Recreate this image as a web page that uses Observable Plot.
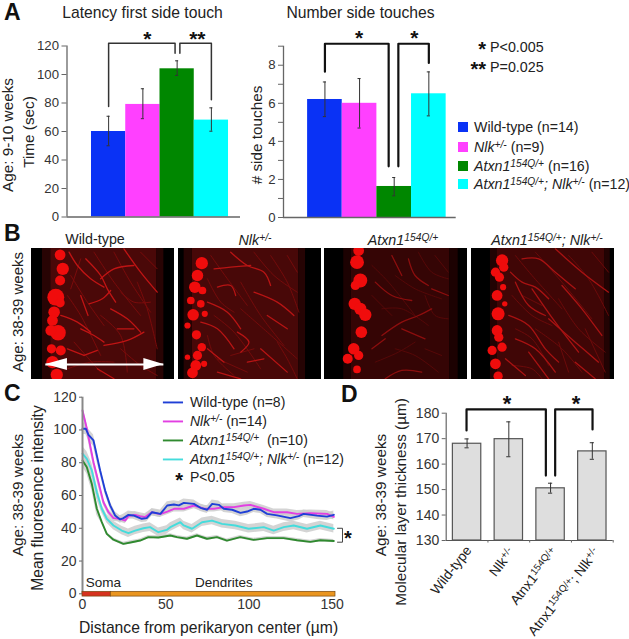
<!DOCTYPE html>
<html><head><meta charset="utf-8">
<script src="https://cdn.jsdelivr.net/npm/d3@7"></script>
<script src="https://cdn.jsdelivr.net/npm/@observablehq/plot@0.6"></script>
<style>
html,body{margin:0;padding:0;background:#fff}
#page{position:relative;width:629px;height:639px;overflow:hidden;font-family:"Liberation Sans",Arial,sans-serif;color:#222}
#page svg{position:absolute;overflow:visible}
.t{position:absolute;white-space:nowrap;line-height:1}
.s{font-size:.72em;vertical-align:.42em;line-height:0}
</style></head><body><div id="page"></div>
<script>
// ---------- Panel A ----------
const genotypeColors = ["#0a32f5","#ff40ff","#008700","#00ffff"];
const latencyMean = [60,79,104,68];
const latencyLow  = [50,69,99.3,60.2];
const latencyHigh = [70.7,90,109.6,76.6];
const touchesMean = [6.2,6.0,1.63,6.5];
const touchesLow  = [5.3,4.7,1.14,5.34];
const touchesHigh = [7.12,7.3,2.1,7.65];
const latencyTicks = [0,20,40,60,80,100,120];
const touchesTicks = [0,1,2,3,4,5,6,7,8,9];
const latencyBrackets = [[[0.5,77.5],[0.5,122],[2.44,122],[2.44,115]],[[2.58,115],[2.58,122],[3.5,122],[3.5,82.2]]];
const touchesBrackets = [[[0.5,7.66],[0.5,9.13],[2.34,9.13],[2.34,2.69]],[[2.62,2.69],[2.62,9.13],[3.5,9.13],[3.5,8.12]]];
// ---------- Panel C ----------
const blueX = [0,2,3.6,6.6,8.6,10.6,13.6,16.6,19.6,22.6,24.6,27.6,30.6,35.6,38.6,41.8,46.8,50.9,54.9,57.9,60.9,66.9,70.9,74.9,77.9,81.9,84.9,89.9,94.9,98.9,102.9,106.9,110.9,116.9,124.9,129.9,132.9,140.9,146.9,151];
const blueY = [100.7,100.7,97,93.6,84.4,75.3,63,54,47.8,45.4,46.2,48.2,47.8,45.8,46.2,49.8,48.8,53.9,54.5,54,55.5,54.9,52.5,51.3,54.9,54.3,51.9,51.3,49.4,50.2,51.9,51.3,48.8,47.9,46.2,47.4,48.8,47.7,47.1,48.2];
const pinkX = [0,2.6,4.6,6.6,9.6,12.6,15.6,18.6,22.6,25.6,27.6,31.6,34.6,37.6,41.6,46.6,51,55,61,67,73,79,85,91,97,100.9,108.9,114.9,122.9,128.9,136.9,146.9,151];
const pinkY = [111.9,100.9,90.5,80.3,68.1,55.9,49.8,46.2,45.8,44.7,47.4,48.2,47.4,46.8,49.8,48.6,50.2,51.9,51.9,53.9,51.9,51.9,52.9,52.9,53.9,54.3,51.9,49.8,49.8,48.8,49.2,48.8,47];
const cyanX = [0,2.6,5.6,8.6,11.6,14.6,18.6,23.6,27.6,31.6,36.6,40.6,45.6,50.6,52.8,58.8,60.8,65.8,71.8,77.8,83.8,91.8,99.8,108.9,114.9,120.9,126.9,134.9,142.9,151];
const cyanY = [85.5,82.4,75.3,62,51.9,45.8,41.7,38.6,37,38.6,40,40.7,37.6,39,40.7,43.7,41.7,39.7,43.7,44.7,42.7,41.7,39.7,40.7,38.6,40.7,41.7,39.7,41.7,39.7];
const greenX = [0,2.6,5.6,8.6,11.6,14.6,18.6,24.6,29.6,34.6,39.6,45.6,52.8,56.8,62.8,68.8,74.8,80.8,86.8,94.8,102.8,110.9,120.9,128.9,136.9,142.9,151];
const greenY = [81.4,77.3,67.1,51.9,43.7,36.6,33,30.5,31.5,32.5,34.6,34.4,35.6,34.6,33.6,35.6,33.6,34.6,32.5,34.6,32.9,34,34,32.7,31.7,32.7,32.2];
const curveColors = {blue:"#1f3fd6",pink:"#e23fe2",green:"#2f8a2f",cyan:"#45dcdc"};
const semEarly = {blue:3.5,pink:3,green:4,cyan:4.5};
const semLate = {blue:2.3,pink:2,green:1,cyan:2.6};
const legendRows = [["blue",116.8],["pink",105.2],["green",93.6],["cyan",82]];
const regionBars = [{name:"Soma",x1:0,x2:17,at:12.5,fill:"#d6321e"},{name:"Dendrites",x1:17,x2:152,at:85,fill:"#ea951f"}];
const curveTicksX = [0,50,100,150];
const curveTicksY = [0,20,40,60,80,100,120];
const sideBracket = [[153.2,40],[156.2,40],[156.2,31.5],[153.2,31.5]];
// ---------- Panel D ----------
const thickMean = [168,169.8,150.5,165];
const thickLow  = [166.4,162.9,148.6,161.9];
const thickHigh = [169.9,176.6,152.5,168.4];
const thickTicks = [130,140,150,160,170,180];
const thickBrackets = [[[0.487,173.2],[0.487,181.5],[2.387,181.5],[2.387,155.5]],[[2.61,155.5],[2.61,181.5],[3.505,181.5],[3.505,173.6]]];
// ---------- Panel B: shapes (3x zoom px) ----------
const somataWT = [[178,118,14],[186,160,16],[178,195,13],[165,245,22],[178,262,12],[160,290,15],[155,315,14],[172,352,20],[150,345,14],[152,400,12],[180,405,13],[155,440,16],[168,478,16]];
const somataNlk = [[603,143,16],[590,180,15],[582,215,15],[605,225,10],[570,255,10],[600,265,10],[577,298,15],[612,295,8],[560,330,8],[587,358,12],[603,395,11],[560,425,7],[590,420,12],[585,450,14],[575,472,14],[610,445,8]];
const somataAtxn = [[130,105,14],[125,140,18],[135,195,18],[120,210,12],[118,265,16],[135,280,16],[150,298,16],[138,350,15],[115,400,15],[130,420,12],[97,430,13],[125,462,10]];
const somataBoth = [[560,135,16],[565,155,12],[540,170,12],[552,185,12],[563,215,8],[545,240,14],[568,265,7],[548,295,17],[545,345,14],[550,365,12],[560,395,12],[530,405,12],[540,445,14],[548,482,12]];
const dendritesWT = [[[205,110],[230,150],[270,190],[310,215]],[[255,130],[300,180],[320,220],[345,260]],[[300,190],[340,160],[400,150]],[[265,265],[305,250],[330,225]],[[240,240],[262,300]],[[330,280],[380,310],[420,350]],[[240,340],[280,360],[310,380]],[[310,390],[380,375],[430,350]],[[250,420],[290,405]],[[180,300],[230,320],[270,350]],[[290,460],[340,490]],[[200,400],[250,420]],[[370,100],[420,170],[470,230]],[[350,340],[400,340]]];
const dendritesNlk = [[[690,110],[740,150],[790,170],[810,210]],[[650,215],[690,210],[705,240]],[[640,160],[690,155],[750,150]],[[620,260],[680,290],[720,340]],[[600,320],[650,340],[700,400]],[[710,350],[745,380],[720,410]],[[620,400],[670,440]],[[800,300],[860,340]],[[760,230],[830,260],[880,300]],[[650,470],[720,490]],[[780,400],[860,470]],[[740,440],[790,430]]];
const dendritesAtxn = [[[180,200],[230,240],[290,255]],[[200,360],[260,320],[310,300],[350,280]],[[280,130],[300,180],[340,210]],[[230,120],[260,180]],[[210,490],[260,465],[320,470]],[[170,400],[210,370]],[[350,220],[400,240]],[[260,340],[330,370]]];
const dendritesBoth = [[[585,170],[620,200],[660,215],[700,250]],[[620,130],[670,130],[720,170],[780,220]],[[600,200],[640,270],[690,300]],[[580,300],[640,330],[690,400],[730,440]],[[600,370],[660,400],[720,470]],[[740,210],[800,280],[860,360]],[[700,310],[780,380],[850,440]],[[570,430],[630,480]],[[720,100],[800,170],[880,230]],[[640,410],[700,490]],[[780,440],[840,490]],[[650,220],[720,320],[790,410]]];
const fibersWT = [[[210,180],[260,260],[310,330]],[[200,240],[240,300],[300,420]],[[280,110],[340,200],[420,300]],[[340,110],[390,200],[450,290]],[[410,200],[440,280],[470,400]],[[200,460],[270,440],[340,440]],[[360,400],[420,450],[470,480]],[[240,130],[210,220]],[[360,230],[400,260],[450,260]],[[300,300],[360,360],[380,470]],[[420,110],[470,160]],[[220,380],[300,470]]];
const fibersNlk = [[[630,120],[680,190],[740,270]],[[620,190],[660,260],[700,290]],[[720,200],[780,300],[850,390]],[[810,120],[860,200],[895,290]],[[640,300],[700,350],[780,460]],[[620,360],[640,420],[700,480]],[[760,110],[820,180],[890,230]],[[720,280],[800,350],[890,430]],[[650,430],[740,470]],[[830,380],[860,430],[890,490]],[[690,420],[760,400]],[[860,120],[890,170]]];
const fibersAtxn = [[[170,150],[220,200],[300,300]],[[200,280],[260,280],[340,330]],[[310,110],[350,170],[400,190]],[[170,240],[230,300]],[[240,400],[300,420],[370,470]],[[330,240],[360,300],[400,310]],[[180,440],[250,410],[300,380]],[[360,120],[400,170]],[[240,180],[300,220],[380,250]],[[330,400],[380,420]]];
const fibersBoth = [[[600,120],[650,180],[740,280]],[[590,240],[650,300],[710,330]],[[660,110],[740,200],[830,310]],[[760,120],[820,190],[880,300]],[[600,340],[650,370],[700,450]],[[730,250],[790,340],[870,410]],[[590,450],[650,460],[680,490]],[[830,110],[880,170]],[[660,340],[740,400],[800,470]],[[810,340],[870,470]],[[620,240],[680,270]],[[730,380],[760,470]]];
const arrowHeads = [[{x:135,y1:447,y2:447},{x:200,y1:429,y2:465}],[{x:490,y1:447,y2:447},{x:430,y1:429,y2:465}]];

const page = document.getElementById("page");
const font = "Liberation Sans, Arial, sans-serif";
function place(svg,left,top){svg.style.left=left+"px";svg.style.top=top+"px";page.appendChild(svg);return svg;}
function label(x,y,html,o={}){
  const d=document.createElement("div");d.className="t";d.innerHTML=html;
  d.style.left=x+"px";d.style.top=y+"px";d.style.fontSize=(o.size||14.5)+"px";
  if(o.bold)d.style.fontWeight="bold";
  if(o.color)d.style.color=o.color;
  if(o.anchor==="start")d.style.transform="translate(0,-50%)";
  else if(o.anchor==="end"){d.style.transformOrigin="100% 50%";d.style.transform=`translate(-100%,-50%) rotate(${o.rotate||0}deg)`;}
  else d.style.transform=`translate(-50%,-50%) rotate(${o.rotate||0}deg)`;
  page.appendChild(d);return d;
}
const pts = b => b.map(p=>({x:p[0],y:p[1]}));
const star = (x,y,text,size=21,color="#111") => Plot.text([{x,y}],{x:"x",y:"y",text:()=>text,fontSize:size,fontWeight:"bold",fill:color,lineAnchor:"middle"});
const style = size => ({fontFamily:font,fontSize:size+"px",color:"#333",background:"transparent"});
const caps = (rows,w) => rows.flatMap(d=>[d.low,d.high].map(y=>({y,x1:d.i+.5-w,x2:d.i+.5+w})));

function barPanel(o){
  const rows = o.mean.map((v,i)=>({i,v,low:o.low[i],high:o.high[i],c:genotypeColors[i]}));
  return Plot.plot({width:o.width,height:o.height,marginLeft:o.ml,marginRight:o.mr,marginTop:o.mt,marginBottom:o.mb,
    style:style(13.2),
    x:{domain:o.xd,axis:null},y:{domain:o.yd,axis:null},
    marks:[
      Plot.rectY(rows,{x1:"i",x2:d=>d.i+1,y:"v",fill:"c"}),
      Plot.ruleX(rows,{x:d=>d.i+.5,y1:"low",y2:"high",stroke:"#333",strokeWidth:1}),
      Plot.ruleY(caps(rows,.045),{y:"y",x1:"x1",x2:"x2",stroke:"#333",strokeWidth:1}),
      Plot.ruleY([o.yd[0]],{stroke:"#666",strokeWidth:1.3}),
      Plot.ruleX([o.xd[0]],{y1:o.yd[0],y2:o.yd[1],stroke:"#666",strokeWidth:1.3}),
      Plot.axisY({ticks:o.ticks,tickSize:5,tickPadding:3,stroke:"#666",fill:"#333",tickFormat:o.fmt||(d=>d),label:null}),
      ...o.brackets.map(b=>Plot.line(pts(b),{x:"x",y:"y",stroke:o.bc,strokeWidth:o.bw,curve:"linear"})),
      ...o.stars
    ]});
}
// A1
place(barPanel({width:215,height:210,ml:36.5,mr:5,mt:25.5,mb:13.5,xd:[-0.715,4.35],yd:[0,120],ticks:latencyTicks,mean:latencyMean,low:latencyLow,high:latencyHigh,brackets:latencyBrackets,bc:"#333",bw:1.5,
  stars:[star(1.63,125,"*"),star(3.09,125,"**")]}),30,20);
// A2
place(barPanel({width:210,height:210,ml:33,mr:4.3,mt:25.7,mb:13,xd:[-0.696,4.29],yd:[0,9],ticks:touchesTicks,fmt:d=>d%2?"":d,mean:touchesMean,low:touchesLow,high:touchesHigh,brackets:touchesBrackets,bc:"#111",bw:2.2,
  stars:[star(1.49,9.4,"*"),star(3.08,9.4,"*")]}),250,20);

label(4,12,"A",{size:23,bold:true,anchor:"start",color:"#111"});
label(142.5,13,"Latency first side touch",{size:15.7});
label(360.5,13,"Number side touches",{size:15.7});
label(8,135,"Age: 9-10 weeks",{size:15.3,rotate:-90});
label(29,132,"Time (sec)",{size:15.3,rotate:-90});
label(257,135,"# side touches",{size:15.3,rotate:-90});
label(490,47,"P&lt;0.005",{size:14.3,anchor:"start"});
label(490,67,"P=0.025",{size:14.3,anchor:"start"});
label(486,48.5,"*",{size:20,bold:true,anchor:"end",color:"#111"});
label(486,68.5,"**",{size:20,bold:true,anchor:"end",color:"#111"});
const aLegend=["Wild-type (n=14)",'<i>Nlk<span class="s">+/-</span></i> (n=9)','<i>Atxn1<span class="s">154Q/+</span></i> (n=16)','<i>Atxn1<span class="s">154Q/+</span>; Nlk<span class="s">+/-</span></i> (n=12)'];
const aRowY=[127,147,165.7,184.3];
aLegend.forEach((h,i)=>{
  const s=document.createElement("div");s.style.cssText=`position:absolute;left:458.3px;top:${aRowY[i]-5}px;width:10px;height:10px;background:${genotypeColors[i]}`;page.appendChild(s);
  label(474,aRowY[i],h,{size:14.2,anchor:"start"});
});

// B micrographs
function micro(o){
  const toRows=l=>l.flatMap((p,id)=>p.map(q=>({id,x:q[0],y:q[1]})));
  const plot=Plot.plot({width:143,height:131.3,margin:0,style:{background:"#000"},x:{domain:o.xd,axis:null},y:{domain:[493,99],axis:null},r:{type:"identity"},
    marks:[
      Plot.rect(o.tissue.map(t=>({x1:t[0],x2:t[1],c:t[2]==="dim"?o.dim:o.bg})),{x1:"x1",x2:"x2",y1:99,y2:493,fill:"c"}),
      Plot.line(toRows(o.fib),{x:"x",y:"y",z:"id",stroke:o.fib_c,strokeWidth:1,curve:"catmull-rom"}),
      Plot.line(toRows(o.den),{x:"x",y:"y",z:"id",stroke:o.den_c,strokeWidth:1.3,curve:"catmull-rom"}),
      Plot.dot(o.som,{x:d=>d[0],y:d=>d[1],r:d=>d[2]/2.6,fill:"#f00c0c",stroke:null}),
      ...(o.extra||[])
    ]});
  plot.style.filter="blur(0.7px)";
  const clip=document.createElement("div");
  clip.style.cssText=`position:absolute;left:${o.left}px;top:248px;width:143px;height:131.3px;overflow:hidden`;
  plot.style.position="absolute";plot.style.left="0";plot.style.top="0";
  clip.appendChild(plot);page.appendChild(clip);
}
micro({left:31,xd:[92,522],som:somataWT,den:dendritesWT,fib:fibersWT,den_c:"#c01414",fib_c:"#7a0b0b",bg:"#4a0808",dim:"#280404",tissue:[[125,150,"dim"],[150,468,"bg"],[468,490,"dim"]],extra:[
  ...arrowHeads.map(h=>Plot.areaY(h,{x:"x",y1:"y1",y2:"y2",fill:"#fff"})),
  Plot.ruleY([447],{x1:135,x2:490,stroke:"#fff",strokeWidth:2})]});
micro({left:177.7,xd:[533,963],som:somataNlk,den:dendritesNlk,fib:fibersNlk,den_c:"#b81414",fib_c:"#740b0b",bg:"#480808",dim:"#260404",tissue:[[550,575,"dim"],[575,895,"bg"],[895,915,"dim"]]});
micro({left:324,xd:[27,458],som:somataAtxn,den:dendritesAtxn,fib:fibersAtxn,den_c:"#8c0e0e",fib_c:"#560808",bg:"#350505",dim:"#1c0202",tissue:[[85,108,"dim"],[108,405,"bg"],[405,430,"dim"]]});
micro({left:471,xd:[468,898],som:somataBoth,den:dendritesBoth,fib:fibersBoth,den_c:"#a81212",fib_c:"#6c0a0a",bg:"#400606",dim:"#220303",tissue:[[525,545,"dim"],[545,868,"bg"],[868,885,"dim"]]});
label(4,233,"B",{size:23,bold:true,anchor:"start",color:"#111"});
label(95,238.5,"Wild-type",{size:14.3});
label(255,240,'<i>Nlk<span class="s">+/-</span></i>',{size:14.3});
label(403,240,'<i>Atxn1<span class="s">154Q/+</span></i>',{size:14.3});
label(547,240,'<i>Atxn1<span class="s">154Q/+</span>; Nlk<span class="s">+/-</span></i>',{size:14.3});
label(17,312,"Age: 38-39 weeks",{size:15,rotate:-90});

// C curves
const curves=[["green",greenX,greenY],["cyan",cyanX,cyanY],["pink",pinkX,pinkY],["blue",blueX,blueY]]
  .map(([key,xs,ys])=>({key,rows:xs.map((x,i)=>({x,y:ys[i],sem:x<10?semEarly[key]:semLate[key]}))}));
place(Plot.plot({width:300,height:230,marginLeft:34,marginRight:13,marginTop:11.7,marginBottom:21.7,style:style(14),
  x:{domain:[0,152],axis:null},y:{domain:[0,120],axis:null},
  marks:[
    ...curves.map(c=>Plot.areaY(c.rows,{x:"x",y1:d=>d.y-d.sem,y2:d=>d.y+d.sem,fill:"#cccccc",fillOpacity:.85})),
    ...curves.map(c=>Plot.line(c.rows,{x:"x",y:"y",stroke:curveColors[c.key],strokeWidth:1.9})),
    Plot.ruleX([0],{y1:0,y2:120,stroke:"#888",strokeWidth:2}),
    Plot.axisY({ticks:curveTicksY,tickSize:3,tickPadding:3,stroke:"#666",fill:"#333",label:null}),
    Plot.axisX({ticks:curveTicksX,tickSize:0,tickPadding:5,fill:"#333",label:null}),
    Plot.rect(regionBars,{x1:"x1",x2:"x2",y1:-1.7,y2:1.2,fill:"fill",stroke:"#7a4a10",strokeWidth:.7}),
    Plot.text(regionBars,{x:"at",y:7,text:"name",fontSize:13.5,fill:"#222"}),
    ...legendRows.map(([k,y])=>Plot.ruleY([y],{x1:48.6,x2:60.7,stroke:curveColors[k],strokeWidth:1.9})),
    Plot.line(pts(sideBracket),{x:"x",y:"y",stroke:"#444",strokeWidth:1}),
    star(159.5,33.5,"*",20),
    star(58,69,"*",20)
  ]}),48,385);
label(4,393,"C",{size:23,bold:true,anchor:"start",color:"#111"});
label(18,495,"Age: 38-39 weeks",{size:15.3,rotate:-90});
label(38,497.5,"Mean fluoresence intensity",{size:15.6,rotate:-90});
label(208.5,628,"Distance from perikaryon center (µm)",{size:15.7});
const cLegend=["Wild-type (n=8)",'<i>Nlk<span class="s">+/-</span></i> (n=14)','<i>Atxn1<span class="s">154Q/+</span></i>&nbsp; (n=10)','<i>Atxn1<span class="s">154Q/+</span>; Nlk<span class="s">+/-</span></i> (n=12)',"P&lt;0.05"];
const cRowY=[402,421,440,459,477];
cLegend.forEach((h,i)=>label(190,cRowY[i],h,{size:14,anchor:"start"}));

// D
const dRows=thickMean.map((v,i)=>({i,v,low:thickLow[i],high:thickHigh[i]}));
place(Plot.plot({width:225,height:165,marginLeft:45.7,marginRight:12.3,marginTop:27.7,marginBottom:10,style:style(14),
  x:{domain:[0,4],axis:null},y:{domain:[130,180],axis:null},
  marks:[
    Plot.rectY(dRows,{x1:d=>d.i+.16,x2:d=>d.i+.84,y1:130,y2:"v",fill:"#dedede",stroke:"#555",strokeWidth:1.2}),
    Plot.ruleX(dRows,{x:d=>d.i+.5,y1:"low",y2:"high",stroke:"#333",strokeWidth:1}),
    Plot.ruleY(caps(dRows,.05),{y:"y",x1:"x1",x2:"x2",stroke:"#333",strokeWidth:1}),
    Plot.ruleY([130],{stroke:"#555",strokeWidth:1.2}),
    Plot.ruleX([0],{y1:130,y2:180,stroke:"#666",strokeWidth:1.2}),
    Plot.ruleX([1,2,3,4],{y1:130,y2:129,stroke:"#666"}),
    Plot.axisY({ticks:thickTicks,tickSize:4,tickPadding:3,stroke:"#666",fill:"#333",label:null}),
    ...thickBrackets.map(b=>Plot.line(pts(b),{x:"x",y:"y",stroke:"#111",strokeWidth:2.2})),
    star(1.46,183.5,"*",22),star(3.11,183.5,"*",22)
  ]}),400,385);
label(341,394,"D",{size:23,bold:true,anchor:"start",color:"#111"});
label(381,495,"Age: 38-39 weeks",{size:15.3,rotate:-90});
label(401,502,"Molecular layer thickness (µm)",{size:15.3,rotate:-90});
const dCats=["Wild-type",'Nlk<span class="s">+/-</span>','Atnx1<span class="s">154Q/+</span>','Atnx1<span class="s">154Q/+</span>; Nlk<span class="s">+/-</span>'];
const dEnd=[[469,548],[512,550],[555,550],[597,550]];
dCats.forEach((h,i)=>label(dEnd[i][0],dEnd[i][1],h,{size:13.7,anchor:"end",rotate:-52}));
</script></body></html>
